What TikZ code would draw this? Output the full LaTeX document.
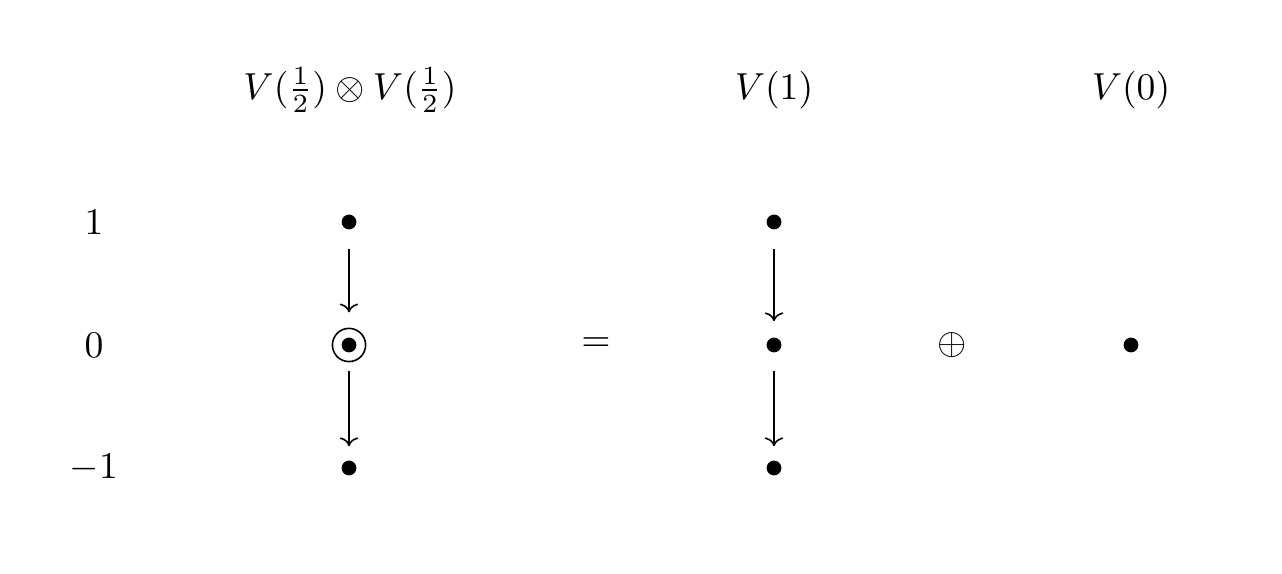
\documentclass[tikz,border=0pt]{standalone}
\usepackage{amsmath}
\usepackage{graphicx}
\usetikzlibrary{arrows.meta}
\newcommand\mytxt[1]{\scalebox{0.94}{#1}}
\begin{document}
\begin{tikzpicture}[x=0.25pt,y=-0.25pt,
  lbl/.style={inner sep=0pt,anchor=center},
  dotnode/.style={circle,fill=black,inner sep=0pt,minimum size=3.7pt},
  ring/.style={circle,draw=black,line width=0.4pt,inner sep=0pt,minimum size=8.3pt},
  arr/.style={-{Computer Modern Rightarrow[length=2.2pt,width=4.6pt]},line width=0.4pt}]
\useasboundingbox (0,0) rectangle (1282,574);
% headers
\node[lbl] (h1) at (350,90) {\mytxt{$V(\tfrac12)\otimes V(\tfrac12)$}};
\node[lbl] (h2) at (774,90) {\mytxt{$V(1)$}};
\node[lbl] (h3) at (1131,90) {\mytxt{$V(0)$}};
% row labels
\node[lbl] (r1) at (94,222) {\mytxt{$1$}};
\node[lbl] (r0) at (94,345) {\mytxt{$0$}};
\node[lbl] (rm) at (94,468) {\mytxt{$-1$}};
% column 1
\node[dotnode] (a1) at (349,222) {};
\node[dotnode] (a0) at (349,345) {};
\node[ring] (a0r) at (349,345) {};
\node[dotnode] (am) at (349,468) {};
% column 2
\node[dotnode] (b1) at (774,222) {};
\node[dotnode] (b0) at (774,345) {};
\node[dotnode] (bm) at (774,468) {};
% column 3
\node[dotnode] (c0) at (1131,345) {};
% operators
\node[lbl] (eq) at (596,345) {\mytxt{$=$}};
\node[lbl] (op) at (952,345) {\mytxt{$\oplus$}};
% arrows
\draw[arr,shorten <=4.65pt,shorten >=3.8pt] (a1) -- (a0r);
\draw[arr,shorten <=2.1pt,shorten >=3.4pt] (a0r) -- (am);
\draw[arr,shorten <=4.65pt,shorten >=3.9pt] (b1) -- (b0);
\draw[arr,shorten <=4.4pt,shorten >=3.4pt] (b0) -- (bm);
\end{tikzpicture}
\end{document}
